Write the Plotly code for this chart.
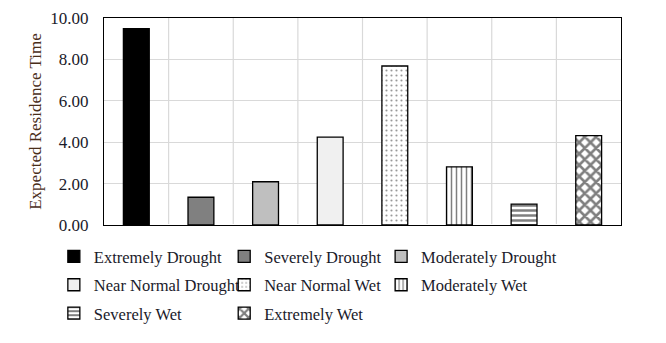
import plotly.graph_objects as go

categories = ['Extremely Drought', 'Severely Drought', 'Moderately Drought',
              'Near Normal Drought', 'Near Normal Wet', 'Moderately Wet',
              'Severely Wet', 'Extremely Wet']
residence_time = [9.48, 1.34, 2.09, 4.25, 7.68, 2.81, 1.01, 4.32]

fills = ['#000000', '#808080', '#bfbfbf', '#f0f0f0', '#ffffff', '#ffffff', '#ffffff', '#ffffff']
patterns = [
    dict(shape=''),
    dict(shape=''),
    dict(shape=''),
    dict(shape=''),
    dict(shape='.', size=5, solidity=0.15, fgcolor='#333333', bgcolor='#ffffff'),
    dict(shape='|', size=5, solidity=0.3, fgcolor='#000000', bgcolor='#ffffff'),
    dict(shape='-', size=5, solidity=0.5, fgcolor='#000000', bgcolor='#ffffff'),
    dict(shape='x', size=8, solidity=0.55, fgcolor='#000000', bgcolor='#ffffff'),
]
# legend laid out in three columns (one plotly legend per column)
legend_cols = ['legend', 'legend2', 'legend3', 'legend', 'legend2', 'legend3', 'legend', 'legend2']

serif = 'Liberation Serif, Times New Roman, serif'
txt = '#1a1a2a'

fig = go.Figure()
for name, val, col, pat, lg in zip(categories, residence_time, fills, patterns, legend_cols):
    fig.add_trace(go.Bar(x=[name], y=[val], name=name, width=0.4,
                         legend=lg, legendgroup=name,
                         marker=dict(color=col, pattern=pat,
                                     line=dict(color='#000000', width=1.3))))

leg = dict(orientation='v', y=-0.068, xanchor='left', yanchor='top',
           traceorder='grouped', tracegroupgap=4,
           font=dict(family=serif, size=16.5, color=txt), bgcolor='rgba(0,0,0,0)')

fig.update_layout(
    width=666, height=343,
    margin=dict(l=96, r=53, t=10, b=126, autoexpand=False),
    plot_bgcolor='white', paper_bgcolor='white',
    font=dict(family=serif, size=17, color=txt),
    barmode='overlay',
    showlegend=True,
    legend=dict(leg, x=-0.097),
    legend2=dict(leg, x=0.2325),
    legend3=dict(leg, x=0.536),
)

fig.update_xaxes(categoryorder='array', categoryarray=categories,
                 showticklabels=False, showgrid=False, automargin=False,
                 showline=True, linecolor='#000000', linewidth=1.3, mirror=True)
# vertical gridlines between categories
for i in range(1, len(categories)):
    fig.add_vline(x=i - 0.5, line=dict(color='#d9d9d9', width=1.2), layer='below')

fig.update_yaxes(range=[0, 10], dtick=2, tickformat='.2f', automargin=False,
                 showgrid=True, gridcolor='#d9d9d9', gridwidth=1.2,
                 showline=True, linecolor='#000000', linewidth=1.3, mirror=True,
                 ticks='', ticklabelstandoff=11, tickfont=dict(size=17),
                 title=dict(text='Expected Residence Time', standoff=4,
                            font=dict(family=serif, size=17, color='#4a2e1a')))

fig.write_html("out.html")
